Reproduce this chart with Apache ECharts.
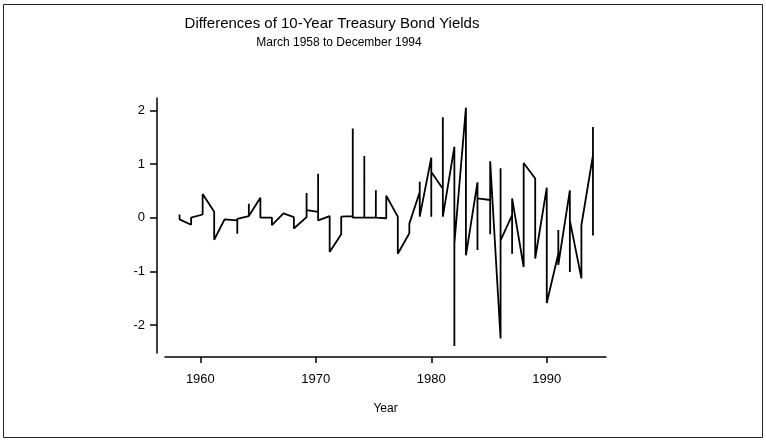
<!DOCTYPE html>
<html>
<head>
<meta charset="utf-8">
<script src="https://cdn.jsdelivr.net/npm/echarts@6/dist/echarts.min.js"></script>
<style>
html,body{margin:0;padding:0;background:#fff;}
#chart{width:766px;height:444px;}
</style>
</head>
<body>
<div id="chart"></div>
<script>
// x positions (year) and differences in plotting order
const years = [
  1958.2, 1958.2,
  1959.2, 1959.2,
  1960.2, 1960.2,
  1961.2, 1961.2,
  1962.1,
  1963.2, 1963.2, 1963.2,
  1964.2, 1964.2, 1964.2,
  1965.2, 1965.2,
  1966.2, 1966.2,
  1967.2,
  1968.1, 1968.1,
  1969.2, 1969.2, 1969.2,
  1970.2, 1970.2, 1970.2,
  1971.2, 1971.2,
  1972.2, 1972.2,
  1973.2, 1973.2, 1973.2,
  1974.2, 1974.2, 1974.2,
  1975.2, 1975.2, 1975.2,
  1976.1, 1976.1,
  1977.1, 1977.1,
  1978.1, 1978.1,
  1979.0, 1979.0, 1979.0,
  1980.0, 1980.0, 1980.0,
  1981.0, 1981.0, 1981.0,
  1982.0, 1982.0, 1982.0,
  1983.0, 1983.0,
  1984.0, 1984.0, 1984.0,
  1985.1, 1985.1, 1985.1,
  1986.0, 1986.0, 1986.0,
  1987.0, 1987.0, 1987.0,
  1988.0, 1988.0,
  1989.0, 1989.0,
  1990.0, 1990.0,
  1991.0, 1991.0, 1991.0,
  1992.0, 1992.0, 1992.0,
  1993.0, 1993.0,
  1994.0, 1994.0, 1994.0
];
const diffs = [
  0.06, -0.03,
  -0.13, 0.00,
  0.06, 0.44,
  0.11, -0.41,
  -0.03,
  -0.05, -0.30, -0.02,
  0.03, 0.26, 0.03,
  0.37, 0.00,
  0.00, -0.14,
  0.08,
  0.01, -0.20,
  0.01, 0.46, 0.14,
  0.11, 0.82, -0.05,
  0.03, -0.64,
  -0.31, 0.02,
  0.03, 1.66, 0.00,
  0.00, 1.15, 0.00,
  0.00, 0.51, 0.00,
  -0.01, 0.41,
  0.02, -0.67,
  -0.29, -0.11,
  0.48, 0.67, 0.02,
  1.12, 0.02, 0.85,
  0.54, 1.87, 0.02,
  1.32, -2.39, -0.48,
  2.05, -0.70,
  0.66, -0.60, 0.36,
  0.33, -0.31, 1.05,
  -2.25, 0.92, -0.42,
  0.05, -0.67, 0.36,
  -0.92, 1.02,
  0.73, -0.76,
  0.56, -1.59,
  -0.67, -0.23, -0.88,
  0.51, -1.01, -0.05,
  -1.13, -0.14,
  1.16, 1.69, -0.33
];
const xTicks = [1960, 1970, 1980, 1990];
const yTicks = [-2, -1, 0, 1, 2];
const titleText = 'Differences of 10-Year Treasury Bond Yields';
const subtitleText = 'March 1958 to December 1994';
const xName = 'Year';

const data = years.map((x, i) => [x, diffs[i]]);
const font = '"Liberation Sans", Arial, sans-serif';

const chart = echarts.init(document.getElementById('chart'), null, {renderer: 'canvas'});
chart.setOption({
  backgroundColor: '#fff',
  animation: false,
  title: [
    {text: titleText, left: 327, top: 11, textAlign: 'center',
     textStyle: {fontFamily: font, fontSize: 15, fontWeight: 'normal', color: '#000'}},
    {text: subtitleText, left: 334, top: 32, textAlign: 'center',
     textStyle: {fontFamily: font, fontSize: 12, fontWeight: 'normal', color: '#000'}}
  ],
  graphic: [{
    type: 'rect', shape: {x: 3.5, y: 4.5, width: 759, height: 433},
    style: {fill: 'none', stroke: '#222', lineWidth: 1}, silent: true
  }],
  grid: {left: 165, right: 160, top: 98, bottom: 91},
  xAxis: {
    type: 'value', min: 1956.94, max: 1995.13, offset: 4,
    name: xName, nameLocation: 'middle', nameGap: 46,
    nameTextStyle: {fontFamily: font, fontSize: 12, color: '#000'},
    axisLine: {onZero: false, lineStyle: {color: '#000', width: 1.5}},
    axisTick: {customValues: xTicks, length: 6, lineStyle: {color: '#000', width: 1.5}},
    axisLabel: {customValues: xTicks, margin: 16, fontFamily: font, fontSize: 13, color: '#000',
      formatter: v => String(Math.round(v))},
    splitLine: {show: false}
  },
  yAxis: {
    type: 'value', min: -2.52, max: 2.23, offset: 8,
    axisLine: {show: true, onZero: false, lineStyle: {color: '#000', width: 1.5}},
    axisTick: {show: true, customValues: yTicks, length: 7, lineStyle: {color: '#000', width: 1.5}},
    axisLabel: {customValues: yTicks, margin: 12, fontFamily: font, fontSize: 13, color: '#000',
      formatter: v => String(Math.round(v))},
    splitLine: {show: false}
  },
  series: [{
    type: 'line', data: data, showSymbol: false, symbol: 'none',
    lineStyle: {color: '#000', width: 1.8}, clip: false
  }]
});
</script>
</body>
</html>
